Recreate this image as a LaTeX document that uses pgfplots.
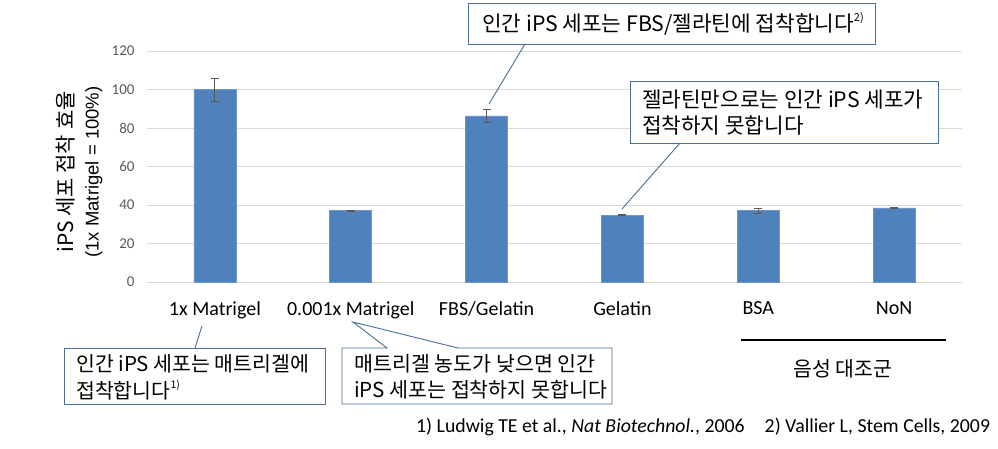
\documentclass[border=0pt]{standalone}
\usepackage{pgfplots}
\pgfplotsset{compat=1.18}
\usepackage{pgfplotstable}
\usepackage{fontspec}
\setmainfont{Carlito}
\newfontfamily\kr{Noto Sans CJK KR}
\newfontfamily\lib{Liberation Sans}
\definecolor{barblue}{HTML}{4F81BD}
\definecolor{baredge}{HTML}{6E96C6}
\definecolor{gridgray}{HTML}{D9D9D9}
\definecolor{tickgray}{HTML}{595959}
\definecolor{errgray}{HTML}{595959}
\definecolor{callout}{HTML}{4A6D95}
\pgfplotstableread{
x y e
0 100 6
1 37 0.4
2 86.3 3.3
3 34.8 0.4
4 37 1.3
5 38.5 0.4
}\data
\begin{document}
\begin{tikzpicture}
\path[use as bounding box] (0,0) rectangle (998pt,448pt);
\fill[white] (0,0) rectangle (998pt,448pt);
\begin{axis}[at={(147pt,166pt)}, anchor=south west, scale only axis,
  width=815pt, height=231pt,
  xmin=-0.5, xmax=5.5, ymin=0, ymax=120,
  ytick={0,20,...,120}, xtick={0,...,5},
  xticklabels={1x Matrigel, 0.001x Matrigel, FBS/Gelatin, Gelatin, BSA, NoN},
  ymajorgrids, grid style={draw=gridgray, line width=0.9pt},
  axis line style={draw=none}, major tick length=0pt,
  /pgf/number format/assume math mode=true,
  yticklabel style={font=\fontsize{15}{15}\selectfont, text=tickgray, xshift=-9pt},
  xticklabel style={font=\fontsize{20}{20}\selectfont, yshift=-16pt},
  ybar, bar width=42pt,
  ylabel={{\kr\fontsize{21}{25}\selectfont iPS 세포 접착 효율}\\{\lib\fontsize{18.5}{21}\selectfont (1x Matrigel = 100\%)}},
  ylabel style={at={(rel axis cs:-0.083,0.476)}, anchor=center, align=center, font=\fontsize{17}{25}\selectfont},
  clip=false]
\addplot[fill=barblue, draw=baredge, line width=0.6pt,
  error bars/.cd, y dir=both, y explicit,
  error bar style={color=errgray, line width=0.9pt},
  error mark options={rotate=90, mark size=4pt, line width=0.9pt, color=errgray}]
  table[x=x, y=y, y error=e] {\data};
\end{axis}
\begin{scope}[x=1pt, y=-1pt, yshift=448pt]
  % top callout
  \draw[callout, line width=0.9pt, fill=white] (468,3) rectangle (875,44);
  \node[anchor=west, inner sep=0pt, font=\kr\fontsize{21.3}{24}\selectfont] at (482,24) {인간 iPS 세포는 FBS/젤라틴에 접착합니다\raisebox{0.45em}{\fontsize{11}{11}\selectfont 2)}};
  \draw[callout, line width=0.9pt] (525,44) -- (489,104);
  % second callout
  \draw[callout, line width=0.9pt, fill=white] (630,81) rectangle (938,143);
  \node[anchor=west, inner sep=0pt, font=\kr\fontsize{21.3}{24}\selectfont] at (642,100) {젤라틴만으로는 인간 iPS 세포가};
  \node[anchor=west, inner sep=0pt, font=\kr\fontsize{21.3}{24}\selectfont] at (642,125) {접착하지 못합니다};
  \draw[callout, line width=0.9pt] (680,143) -- (622,209);
  % bottom-left callout
  \draw[callout, line width=0.9pt, fill=white] (64,348) rectangle (325,404);
  \node[anchor=west, inner sep=0pt, font=\kr\fontsize{20.5}{24}\selectfont] at (76,364) {인간 iPS 세포는 매트리겔에};
  \node[anchor=west, inner sep=0pt, font=\kr\fontsize{20.5}{24}\selectfont] at (76,390) {접착합니다\raisebox{0.45em}{\fontsize{10.5}{10.5}\selectfont 1)}};
  \draw[callout, line width=0.9pt] (195,348) -- (202,326);
  % bottom-middle callout
  \draw[callout, line width=0.9pt, fill=white] (342,348) -- (387,348) -- (353,322) -- (458,348) -- (612,348) -- (612,404) -- (342,404) -- cycle;
  \node[anchor=west, inner sep=0pt, font=\kr\fontsize{20.6}{24}\selectfont] at (354,364) {매트리겔 농도가 낮으면 인간};
  \node[anchor=west, inner sep=0pt, font=\kr\fontsize{20.6}{24}\selectfont] at (354,390) {iPS 세포는 접착하지 못합니다};
  % negative control
  \draw[black, line width=1.2pt] (741,340) -- (946,340);
  \node[font=\kr\fontsize{20.5}{24}\selectfont] at (843,369) {음성 대조군};
  % references
  \node[anchor=west, inner sep=0pt, font=\fontsize{19.8}{22}\selectfont] at (416,427) {1) Ludwig TE et al., \textit{Nat Biotechnol.}, 2006\hspace{20pt}2) Vallier L, Stem Cells, 2009};
\end{scope}
\end{tikzpicture}
\end{document}
